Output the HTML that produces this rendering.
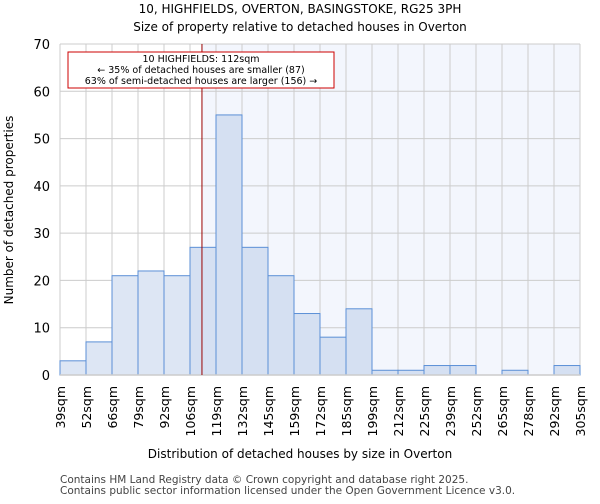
<!DOCTYPE html>
<html><head><meta charset="utf-8"><style>
body{margin:0;background:#fff;font-family:"DejaVu Sans","Liberation Sans",sans-serif}
</style></head><body>
<svg id="c" width="600" height="500" xmlns="http://www.w3.org/2000/svg" font-family="DejaVu Sans, Liberation Sans, sans-serif">
<text x="300" y="13" text-anchor="middle" font-size="12">10, HIGHFIELDS, OVERTON, BASINGSTOKE, RG25 3PH</text>
<text x="300" y="31" text-anchor="middle" font-size="12">Size of property relative to detached houses in Overton</text>
<g id="plot"></g>
<text x="300" y="458" text-anchor="middle" font-size="12">Distribution of detached houses by size in Overton</text>
<text transform="translate(13,210) rotate(-90)" text-anchor="middle" font-size="12">Number of detached properties</text>
<text x="60" y="483" font-size="10.5" fill="#444">Contains HM Land Registry data © Crown copyright and database right 2025.</text>
<text x="60" y="494" font-size="10.5" fill="#444">Contains public sector information licensed under the Open Government Licence v3.0.</text>
</svg>
<script>
const categories=["39sqm","52sqm","66sqm","79sqm","92sqm","106sqm","119sqm","132sqm","145sqm","159sqm","172sqm","185sqm","199sqm","212sqm","225sqm","239sqm","252sqm","265sqm","278sqm","292sqm","305sqm"];
const counts=[3,7,21,22,21,27,55,27,21,13,8,14,1,1,2,2,0,1,0,2];
const yTicks=[0,10,20,30,40,50,60,70];
const markerBin=5.46;
const NS="http://www.w3.org/2000/svg";
const g=document.getElementById('plot');
const X0=60,X1=580,Y0=375,Y1=44,YMAX=70;
const bw=(X1-X0)/counts.length;
const xs=i=>X0+i*bw;
const ys=v=>Y0-(v/YMAX)*(Y0-Y1);
function mk(t,a){const e=document.createElementNS(NS,t);for(const k in a)e.setAttribute(k,a[k]);g.appendChild(e);return e;}
const mx=xs(markerBin);
let e=mk('rect',{x:mx,y:Y1,width:X1-mx,height:Y0-Y1,fill:'#f3f6fd'});


for(let i=0;i<=counts.length;i++){e=mk('line',{x1:xs(i),x2:xs(i),y1:Y1,y2:Y0,stroke:'#ccc','stroke-width':1});

}
yTicks.forEach(t=>{e=mk('line',{x1:X0,x2:X1,y1:ys(t),y2:ys(t),stroke:'#ccc','stroke-width':1});


e=mk('text',{x:X0-10,y:ys(t)+5,'text-anchor':'end','font-size':13});e.textContent=t;

});
counts.forEach((v,i)=>{if(v<=0)return;
e=mk('rect',{x:xs(i),y:ys(v),width:bw,height:Y0-ys(v),fill:(i+1<=markerBin?'#dde6f4':'#d5e0f2'),stroke:'#5b8fd6','stroke-width':1});

});
categories.forEach((c,i)=>{e=mk('text',{transform:`translate(${xs(i)+5},386) rotate(-90)`,'text-anchor':'end','font-size':12.5});e.textContent=c;

});
e=mk('line',{x1:X0,x2:X1,y1:Y0,y2:Y0,stroke:'#ccc','stroke-width':1.5});


e=mk('line',{x1:mx,x2:mx,y1:Y1,y2:Y0,stroke:'#900','stroke-width':1});


e=mk('rect',{x:68,y:52,width:266,height:36,fill:'#fff',stroke:'#c00','stroke-width':1});


["10 HIGHFIELDS: 112sqm","← 35% of detached houses are smaller (87)","63% of semi-detached houses are larger (156) →"].forEach((s,k)=>{
e=mk('text',{x:201,y:62+k*11,'text-anchor':'middle','font-size':9.5});e.textContent=s;

});
</script>
</body></html>
